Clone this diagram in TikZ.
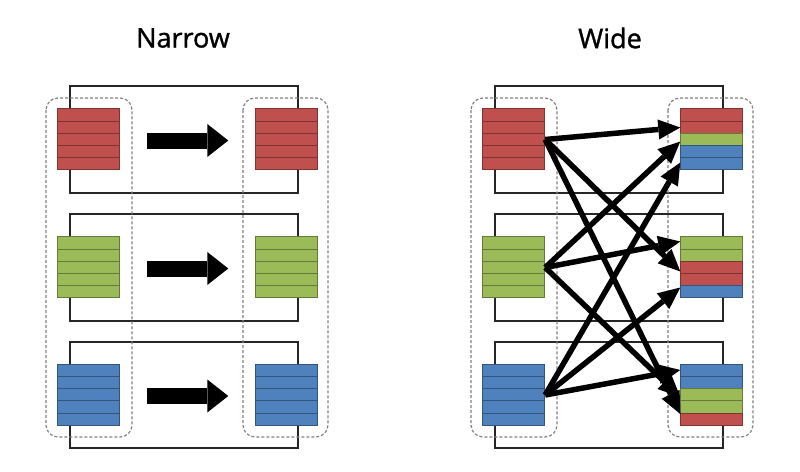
\documentclass[tikz,border=0pt]{standalone}
\usepackage{fontspec}
\setmainfont{Open Sans}
\usetikzlibrary{arrows.meta}

\definecolor{qred}{RGB}{192,80,77}
\definecolor{qgreen}{RGB}{155,187,89}
\definecolor{qblue}{RGB}{79,129,189}

\tikzset{
    stack/.style={minimum width=62pt, minimum height=61pt, inner sep=0pt},
    row/.style={line width=2pt, draw=black!85},
    group/.style={draw=gray, dash pattern=on 3pt off 2pt, line width=1.2pt, rounded corners=12pt},
    blockarrow/.style={line width=16pt, -{Triangle[length=21pt,width=33pt,line width=0pt]},
        shorten <=27pt, shorten >=27pt},
    flow/.style={line width=5.5pt, -{Triangle[length=22pt,width=20pt,line width=0pt]}},
    title/.style={font=\fontsize{27}{32}\selectfont\addfontfeature{FakeBold=1.2}}
}

% 五格队列
\newcommand{\fillstack}[2]{%
    \begin{scope}[shift={(#1.north west)}]
        \foreach \col [count=\i from 0] in {#2}
            \filldraw[fill=\col, draw=\col!65!black, line width=1pt] (0,\i*12.2) rectangle ++(62,12.2);
    \end{scope}}

\begin{document}
\begin{tikzpicture}[x=1pt, y=-1pt]
    \useasboundingbox (0,0) rectangle (800,471);

    % 左图：Narrow
    \begin{scope}[shift={(0,0)}]
        \node[title] (tn) at (183,38) {Narrow};

        % 外框
        \draw[row] (70,86) rectangle (298,193);
        \draw[row] (70,214) rectangle (298,321);
        \draw[row] (70,342) rectangle (298,448);
        \draw[group] (46,98) rectangle (132,437);
        \draw[group] (243,98) rectangle (328,437);

        % 队列
        \node[stack] (nl1) at (89,139.5) {};
        \node[stack] (nl2) at (89,267.5) {};
        \node[stack] (nl3) at (89,395) {};
        \node[stack] (nr1) at (286.5,139.5) {};
        \node[stack] (nr2) at (286.5,267.5) {};
        \node[stack] (nr3) at (286.5,395) {};
        \fillstack{nl1}{qred,qred,qred,qred,qred}
        \fillstack{nl2}{qgreen,qgreen,qgreen,qgreen,qgreen}
        \fillstack{nl3}{qblue,qblue,qblue,qblue,qblue}
        \fillstack{nr1}{qred,qred,qred,qred,qred}
        \fillstack{nr2}{qgreen,qgreen,qgreen,qgreen,qgreen}
        \fillstack{nr3}{qblue,qblue,qblue,qblue,qblue}

        % 箭头
        \foreach \k in {1,2,3}
            \draw[blockarrow] ([yshift=-1pt]nl\k.east) -- ([yshift=-1pt]nr\k.west);
    \end{scope}

    % 右图：Wide
    \begin{scope}[shift={(425,0)}]
        \node[title] (tw) at (185,38) {Wide};

        % 外框
        \draw[row] (70,86) rectangle (298,193);
        \draw[row] (70,214) rectangle (298,321);
        \draw[row] (70,342) rectangle (298,448);
        \draw[group] (46,98) rectangle (132,437);
        \draw[group] (243,98) rectangle (328,437);

        % 队列
        \node[stack] (wl1) at (89,139.5) {};
        \node[stack] (wl2) at (89,267.5) {};
        \node[stack] (wl3) at (89,395) {};
        \node[stack] (wr1) at (286.5,139.5) {};
        \node[stack] (wr2) at (286.5,267.5) {};
        \node[stack] (wr3) at (286.5,395) {};
        \fillstack{wl1}{qred,qred,qred,qred,qred}
        \fillstack{wl2}{qgreen,qgreen,qgreen,qgreen,qgreen}
        \fillstack{wl3}{qblue,qblue,qblue,qblue,qblue}
        \fillstack{wr1}{qred,qred,qgreen,qblue,qblue}
        \fillstack{wr2}{qgreen,qgreen,qred,qred,qblue}
        \fillstack{wr3}{qblue,qblue,qgreen,qgreen,qred}

        % 交叉箭头
        \foreach \s/\t/\dy in {1/1/12, 1/2/-4, 1/3/-19,
                               2/1/-2, 2/2/26, 2/3/-2,
                               3/1/-23, 3/2/-20, 3/3/25}
            \draw[flow] (wl\s.east) -- ([yshift=\dy pt]wr\t.west);
    \end{scope}
\end{tikzpicture}
\end{document}
